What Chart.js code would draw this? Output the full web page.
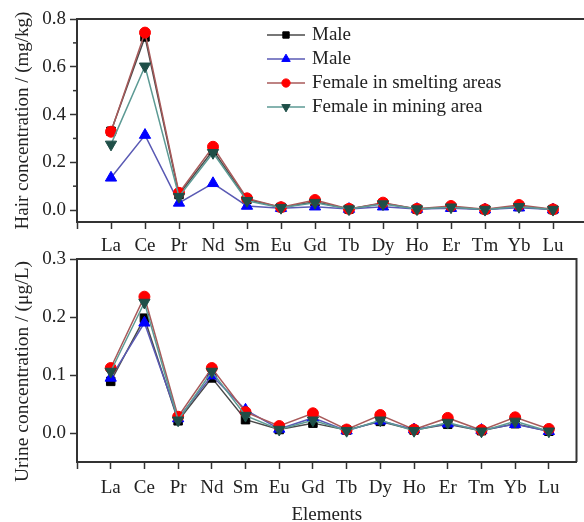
<!DOCTYPE html>
<html>
<head>
<meta charset="utf-8">
<script src="https://cdn.jsdelivr.net/npm/chart.js@4"></script>
<style>
  html, body { margin:0; padding:0; background:#fff; }
  #wrap { position:relative; width:584px; height:522px; overflow:hidden; background:#fff; }
  canvas { position:absolute; left:0; }
  #c1 { top:0; }
  #c2 { top:240px; }
</style>
</head>
<body>
<div id="wrap">
  <canvas id="c1" width="600" height="255"></canvas>
  <canvas id="c2" width="584" height="290"></canvas>
</div>
<script>
const categories = ['La','Ce','Pr','Nd','Sm','Eu','Gd','Tb','Dy','Ho','Er','Tm','Yb','Lu'];
const seriesNames = ['Male','Male','Female in smelting areas','Female in mining area'];

// Hair concentration (mg/kg)
const hairMaleSquare   = [0.330, 0.725, 0.065, 0.250, 0.045, 0.011, 0.035, 0.004, 0.028, 0.004, 0.012, 0.002, 0.015, 0.002];
const hairMaleTriangle = [0.135, 0.314, 0.030, 0.112, 0.017, 0.008, 0.014, 0.004, 0.014, 0.004, 0.008, 0.002, 0.010, 0.002];
const hairFemaleSmelt  = [0.328, 0.743, 0.072, 0.265, 0.049, 0.012, 0.042, 0.005, 0.031, 0.005, 0.017, 0.003, 0.021, 0.003];
const hairFemaleMining = [0.275, 0.602, 0.056, 0.240, 0.039, 0.010, 0.031, 0.004, 0.025, 0.004, 0.012, 0.002, 0.014, 0.002];

// Urine concentration (µg/L)
const urineMaleSquare   = [0.089, 0.198, 0.021, 0.095, 0.023, 0.006, 0.017, 0.005, 0.020, 0.005, 0.015, 0.004, 0.016, 0.003];
const urineMaleTriangle = [0.095, 0.190, 0.025, 0.099, 0.040, 0.007, 0.026, 0.004, 0.021, 0.006, 0.016, 0.005, 0.015, 0.003];
const urineFemaleSmelt  = [0.112, 0.235, 0.028, 0.112, 0.036, 0.012, 0.034, 0.006, 0.031, 0.006, 0.026, 0.005, 0.027, 0.007];
const urineFemaleMining = [0.106, 0.225, 0.022, 0.106, 0.030, 0.006, 0.022, 0.004, 0.022, 0.004, 0.018, 0.003, 0.020, 0.003];

const FONT = 'Liberation Serif';
const TXT = '#222';
const AX = '#333';

const styles = [
  { line:'#4a4a4a', fill:'#000000', point:'rect',     radius:6,   rot:0 },
  { line:'#5a5ab4', fill:'#0000ff', point:'triangle', radius:6.5, rot:0 },
  { line:'#a85a5a', fill:'#ff0000', point:'circle',   radius:5.5, rot:0 },
  { line:'#5c9a94', fill:'#1f4f48', point:'triangle', radius:6.5, rot:180 }
];

function makeDatasets(arrs) {
  return arrs.map((vals, k) => ({
    label: seriesNames[k],
    data: vals.map((v, i) => ({ x: i, y: v })),
    borderColor: styles[k].line,
    borderWidth: 1.5,
    backgroundColor: styles[k].fill,
    pointBackgroundColor: styles[k].fill,
    pointBorderColor: styles[k].fill,
    pointBorderWidth: 1,
    pointStyle: styles[k].point,
    pointRadius: styles[k].radius,
    pointRotation: styles[k].rot,
    order: 3 - k,
    tension: 0
  }));
}

const boxPlugin = {
  id: 'box',
  afterDraw(chart, args, opts) {
    const { ctx, chartArea: a } = chart;
    ctx.save();
    ctx.strokeStyle = AX;
    ctx.lineWidth = 2;
    ctx.beginPath();
    ctx.moveTo(a.left, a.top);
    ctx.lineTo(a.right, a.top);
    ctx.lineTo(a.right, a.bottom);
    ctx.stroke();
    if (opts.minor) {
      const ys = chart.scales.y;
      ctx.lineWidth = 1.5;
      opts.minor.forEach(v => {
        const py = ys.getPixelForValue(v);
        ctx.beginPath();
        ctx.moveTo(a.left - 4, py);
        ctx.lineTo(a.left, py);
        ctx.stroke();
      });
    }
    if (opts.yTitle) {
      ctx.save();
      ctx.font = opts.yTitle.size + 'px "' + FONT + '"';
      ctx.fillStyle = TXT;
      ctx.textAlign = 'center';
      ctx.textBaseline = 'middle';
      ctx.translate(opts.yTitle.x, (a.top + a.bottom) / 2 + opts.yTitle.shift);
      ctx.rotate(-Math.PI / 2);
      ctx.fillText(opts.yTitle.text, 0, 0);
      ctx.restore();
    }
    if (opts.legend) {
      const L = opts.legend;
      ctx.font = '19px "' + FONT + '"';
      ctx.textBaseline = 'middle';
      ctx.textAlign = 'left';
      chart.data.datasets.forEach((ds, k) => {
        const y = L.y0 + k * L.dy;
        ctx.strokeStyle = ds.borderColor;
        ctx.lineWidth = 1.5;
        ctx.beginPath();
        ctx.moveTo(L.x0, y);
        ctx.lineTo(L.x1, y);
        ctx.stroke();
        ctx.fillStyle = ds.pointBackgroundColor;
        ctx.strokeStyle = ds.pointBorderColor;
        ctx.lineWidth = 1;
        Chart.helpers.drawPoint(ctx, { pointStyle: ds.pointStyle, rotation: ds.pointRotation, radius: ds.pointRadius * 0.75, borderWidth: 1 }, (L.x0 + L.x1) / 2, y);
        ctx.fillStyle = TXT;
        ctx.fillText(ds.label, L.tx, y);
      });
    }
    ctx.restore();
  }
};

function makeChart(id, arrs, yMin, yMax, yStep, yTitle, xMax, xAxisHeight, xTitle, pluginOpts) {
  return new Chart(document.getElementById(id), {
    type: 'line',
    data: { datasets: makeDatasets(arrs) },
    options: {
      responsive: false,
      animation: false,
      devicePixelRatio: 1,
      layout: { padding: { top: 19, left: 0, right: id === 'c1' ? 13 : 2, bottom: 0 } },
      plugins: { legend: { display: false }, tooltip: { enabled: false }, box: pluginOpts },
      scales: {
        x: {
          type: 'linear',
          min: -1,
          max: xMax,
          afterBuildTicks(scale) {
            const t = [];
            for (let i = -1; i <= Math.floor(xMax); i++) t.push({ value: i });
            scale.ticks = t;
          },
          afterFit(scale) { scale.height = xAxisHeight; scale.paddingLeft = 0; scale.paddingRight = 0; },
          ticks: {
            autoSkip: false, maxRotation: 0, minRotation: 0, padding: id === 'c1' ? 6 : 8,
            font: { family: FONT, size: 19 }, color: TXT,
            callback: (v) => (v >= 0 && v < categories.length) ? categories[v] : ''
          },
          grid: { display: true, drawOnChartArea: false, drawTicks: true, tickLength: 7, tickWidth: 1.5, tickColor: AX },
          border: { display: true, width: 2, color: AX },
          title: xTitle ? { display: true, text: xTitle, font: { family: FONT, size: 19 }, color: TXT, padding: { top: 0, bottom: 4 } } : { display: false }
        },
        y: {
          min: yMin,
          max: yMax,
          afterFit(scale) { scale.width = 77; },
          ticks: {
            stepSize: yStep, includeBounds: false, padding: 4,
            font: { family: FONT, size: 19 }, color: TXT,
            callback: (v) => v.toFixed(1)
          },
          grid: { display: true, drawOnChartArea: false, drawTicks: true, tickLength: 7, tickWidth: 1.5, tickColor: AX },
          border: { display: true, width: 2, color: AX },
          title: yTitle ? { display: true, text: yTitle, font: { family: FONT, size: 19 }, color: TXT, padding: { top: 12, bottom: 0 } } : { display: false }
        }
      }
    },
    plugins: [boxPlugin]
  });
}

makeChart('c1', [hairMaleSquare, hairMaleTriangle, hairFemaleSmelt, hairFemaleMining],
  -0.05, 0.8, 0.2, 'Hair concentration / (mg/kg)', 14, 33, null,
  { minor: [0.1, 0.3, 0.5, 0.7], legend: { x0: 267, x1: 305, tx: 312, y0: 35, dy: 24 } });

makeChart('c2', [urineMaleSquare, urineMaleTriangle, urineFemaleSmelt, urineFemaleMining],
  -0.05, 0.3, 0.1, null, 13.82, 68, 'Elements',
  { yTitle: { text: 'Urine concentration / (\u03BCg/L)', size: 19.5, x: 23, shift: 11 } });
</script>
</body>
</html>
